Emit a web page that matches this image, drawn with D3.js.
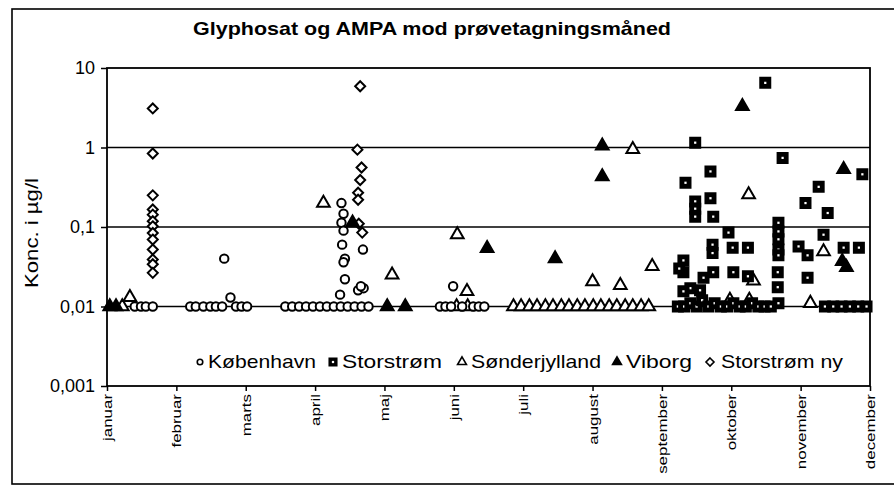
<!DOCTYPE html>
<html><head><meta charset="utf-8">
<script src="https://cdn.jsdelivr.net/npm/d3@7"></script>
<style>
body{margin:0;background:#fff;}
svg{display:block;font-family:"Liberation Sans",Arial,sans-serif;}
</style></head>
<body><svg id="chart" width="894" height="486"></svg>
<script>
// ---- data (x = month index, januar = 0 ... december = 11; y = concentration µg/l)
const monthLabels = ["januar","februar","marts","april","maj","juni","juli","august","september","oktober","november","december"];
const yTickValues = [0.001, 0.01, 0.1, 1, 10];
const yTickLabels = ["0,001", "0,01", "0,1", "1", "10"];
const seriesNames = ["København", "Storstrøm", "Sønderjylland", "Viborg", "Storstrøm ny"];
const titleText = "Glyphosat og AMPA mod prøvetagningsmåned";
const yTitle = "Konc. i µg/l";

const kobenhavn = [
  [0.40,0.01],[0.49,0.01],[0.56,0.01],[0.66,0.01],[1.69,0.040],
  [1.20,0.01],[1.28,0.01],[1.39,0.01],[1.49,0.01],[1.57,0.01],[1.66,0.01],[1.78,0.013],[1.86,0.01],[1.94,0.01],[2.02,0.01],
  [2.57,0.01],[2.67,0.01],[2.77,0.01],[2.87,0.01],[2.97,0.01],[3.07,0.01],[3.17,0.01],[3.27,0.01],[3.37,0.01],[3.47,0.01],[3.57,0.01],[3.67,0.01],[3.77,0.01],
  [3.38,0.20],[3.41,0.147],[3.38,0.113],[3.41,0.090],[3.39,0.060],[3.43,0.040],[3.41,0.036],[3.43,0.022],[3.62,0.016],[3.70,0.017],[3.36,0.0141],[3.69,0.052],[3.66,0.018],
  [4.99,0.018],[4.80,0.01],[4.88,0.01],[4.96,0.01],[5.12,0.01],[5.28,0.01],[5.36,0.01],[5.44,0.01]
];
const storstromNy = [
  [0.66,3.1],[0.66,0.84],[0.66,0.25],[0.66,0.166],[0.66,0.143],[0.66,0.118],[0.66,0.102],[0.66,0.084],[0.66,0.0695],[0.66,0.052],[0.66,0.039],[0.66,0.034],[0.66,0.0265],
  [3.65,5.9],[3.61,0.94],[3.67,0.56],[3.65,0.39],[3.62,0.27],[3.62,0.22],[3.68,0.085],[3.63,0.11]
];
const sonderjylland = [
  [0.22,0.01],[0.33,0.013],[3.12,0.20],[4.11,0.025],[5.05,0.080],[5.19,0.0155],[7.58,0.95],[7.00,0.0206],[7.40,0.0184],[7.86,0.032],
  [9.25,0.255],[10.33,0.049],[8.98,0.012],[9.26,0.012],[10.14,0.011],[9.32,0.021],[5.04,0.01],[5.20,0.01],
  [5.86,0.01],[5.97,0.01],[6.09,0.01],[6.20,0.01],[6.32,0.01],[6.43,0.01],[6.55,0.01],[6.66,0.01],[6.78,0.01],
  [6.89,0.01],[7.01,0.01],[7.12,0.01],[7.24,0.01],[7.35,0.01],[7.47,0.01],[7.58,0.01],[7.70,0.01],[7.81,0.01]
];
const viborg = [
  [0.04,0.01],[0.13,0.01],[3.54,0.113],[4.04,0.01],[4.30,0.01],[5.48,0.054],[7.14,1.05],[7.14,0.43],[6.46,0.040],
  [9.16,3.3],[10.62,0.53],[10.60,0.037],[10.66,0.031]
];
const storstrom = [
  [9.49,6.5],[8.48,1.15],[9.74,0.74],[10.89,0.46],[8.70,0.50],[8.34,0.36],[10.26,0.32],[10.07,0.20],[8.70,0.23],
  [8.48,0.21],[8.48,0.17],[8.48,0.135],[8.74,0.135],[10.39,0.15],[9.68,0.113],[9.68,0.088],[9.68,0.07],[8.96,0.085],
  [10.33,0.080],[9.02,0.055],[9.24,0.055],[8.73,0.060],[8.73,0.047],[9.68,0.052],[9.68,0.044],[9.97,0.057],[10.10,0.044],
  [10.62,0.055],[10.84,0.055],[8.31,0.038],[8.31,0.027],[8.25,0.030],[9.03,0.027],[9.24,0.024],[8.74,0.027],[8.60,0.023],
  [8.41,0.017],[8.31,0.0155],[9.67,0.027],[9.67,0.0175],[10.10,0.023],[8.55,0.016],
  [8.23,0.01],[8.32,0.01],[8.41,0.011],[8.50,0.01],[8.58,0.012],[8.67,0.01],[8.76,0.011],[8.85,0.01],[8.94,0.01],
  [9.03,0.011],[9.12,0.01],[9.21,0.01],[9.30,0.011],[9.39,0.01],[9.48,0.01],[9.57,0.01],[9.68,0.011],
  [10.35,0.01],[10.47,0.01],[10.59,0.01],[10.71,0.01],[10.83,0.01],[10.95,0.01]
];

// ---- layout
const svg = d3.select("#chart");
const plot = {left:107, right:870, top:68, bottom:386};
const x = d3.scaleLinear().domain([0, 11]).range([plot.left, plot.right]);
const y = d3.scaleLog().domain([0.001, 10]).range([plot.bottom, plot.top]);

// outer frame
svg.append("rect").attr("x",12).attr("y",9).attr("width",900).attr("height",475)
  .attr("fill","none").attr("stroke","#000").attr("stroke-width",1.6);

// title
svg.append("text").attr("x",432).attr("y",35).attr("text-anchor","middle")
  .attr("font-size",19).attr("font-weight","bold").attr("textLength",478).attr("lengthAdjust","spacingAndGlyphs")
  .text(titleText);

// gridlines
svg.append("g").selectAll("line").data([0.01,0.1,1]).join("line")
  .attr("x1",plot.left).attr("x2",plot.right).attr("y1",d=>y(d)).attr("y2",d=>y(d))
  .attr("stroke","#000").attr("stroke-width",1.5);

// plot frame
svg.append("rect").attr("x",plot.left).attr("y",plot.top).attr("width",plot.right-plot.left).attr("height",plot.bottom-plot.top)
  .attr("fill","none").attr("stroke","#000").attr("stroke-width",1.8);

// y axis
const yAxis = d3.axisLeft(y).tickValues(yTickValues).tickSize(6).tickPadding(6)
  .tickFormat((d,i)=>yTickLabels[i]);
const gy = svg.append("g").attr("transform",`translate(${plot.left},0)`).call(yAxis);
gy.select(".domain").remove();
gy.selectAll("line").attr("stroke","#000").attr("stroke-width",1.5);
gy.selectAll("text").attr("font-size",18).attr("fill","#000").attr("font-family","'Liberation Sans',Arial,sans-serif");

// y title
svg.append("text").attr("transform","translate(38,233) rotate(-90)").attr("text-anchor","middle")
  .attr("font-size",19).attr("textLength",110).attr("lengthAdjust","spacingAndGlyphs").text(yTitle);

// x axis
const xAxis = d3.axisBottom(x).tickValues(d3.range(12)).tickSize(5).tickPadding(4).tickFormat(i=>monthLabels[i]);
const gx = svg.append("g").attr("transform",`translate(0,${plot.bottom})`).call(xAxis);
gx.select(".domain").remove();
gx.selectAll("line").attr("stroke","#000").attr("stroke-width",1.5);
gx.selectAll("text").attr("font-size",13).attr("fill","#000")
  .attr("font-family","'Liberation Sans',Arial,sans-serif")
  .attr("text-anchor","end").attr("dy",null).attr("dominant-baseline","central")
  .attr("transform","translate(0,8) rotate(-90)").attr("x",0).attr("y",0)
  .each(function(){ const w = this.getComputedTextLength(); d3.select(this).attr("textLength", w*1.3).attr("lengthAdjust","spacingAndGlyphs"); });

// ---- markers
const symCircle = d3.symbol().type(d3.symbolCircle).size(56)();
const symDiamond = "M0,-5L5,0L0,5L-5,0Z";
const symTriangle = d3.symbol().type(d3.symbolTriangle).size(70)();
const symSquare = d3.symbol().type(d3.symbolSquare).size(100)();
const symInner = d3.symbol().type(d3.symbolSquare).size(5)();

function drawSeries(data, path, fill, inner){
  const g = svg.append("g");
  const pts = g.selectAll("g").data(data).join("g")
    .attr("transform",d=>`translate(${x(d[0])},${y(d[1])})`);
  pts.append("path").attr("d",path).attr("fill",fill).attr("stroke","#000").attr("stroke-width",2);
  if(inner) pts.append("path").attr("d",symInner).attr("fill","#fff");
}
drawSeries(sonderjylland, symTriangle, "#fff");
drawSeries(kobenhavn, symCircle, "#fff");
drawSeries(storstromNy, symDiamond, "#fff");
drawSeries(storstrom, symSquare, "#000", true);
drawSeries(viborg, symTriangle, "#000");

// ---- legend
const legendY = 361;
const legendItems = [
  {name:seriesNames[0], sx:200, tx:208, path:d3.symbol().type(d3.symbolCircle).size(24)(), fill:"#fff", w:108},
  {name:seriesNames[1], sx:333, tx:342, path:d3.symbol().type(d3.symbolSquare).size(56)(), fill:"#000", w:100, inner:true},
  {name:seriesNames[2], sx:462, tx:471, path:d3.symbol().type(d3.symbolTriangle).size(34)(), fill:"#fff", w:130},
  {name:seriesNames[3], sx:617, tx:626, path:d3.symbol().type(d3.symbolTriangle).size(34)(), fill:"#000", w:66},
  {name:seriesNames[4], sx:710, tx:721, path:"M0,-4L4,0L0,4L-4,0Z", fill:"#fff", w:122}
];
const lg = svg.append("g");
legendItems.forEach(it=>{
  lg.append("path").attr("d",it.path).attr("transform",`translate(${it.sx},${legendY+1})`)
    .attr("fill",it.fill).attr("stroke","#000").attr("stroke-width",1.6);
  if(it.inner) lg.append("path").attr("d",d3.symbol().type(d3.symbolSquare).size(5)()).attr("transform",`translate(${it.sx},${legendY+1})`).attr("fill","#fff");
  lg.append("text").attr("x",it.tx).attr("y",legendY).attr("dominant-baseline","central")
    .attr("font-size",19).attr("textLength",it.w).attr("lengthAdjust","spacingAndGlyphs").text(it.name);
});
</script>
</body></html>
